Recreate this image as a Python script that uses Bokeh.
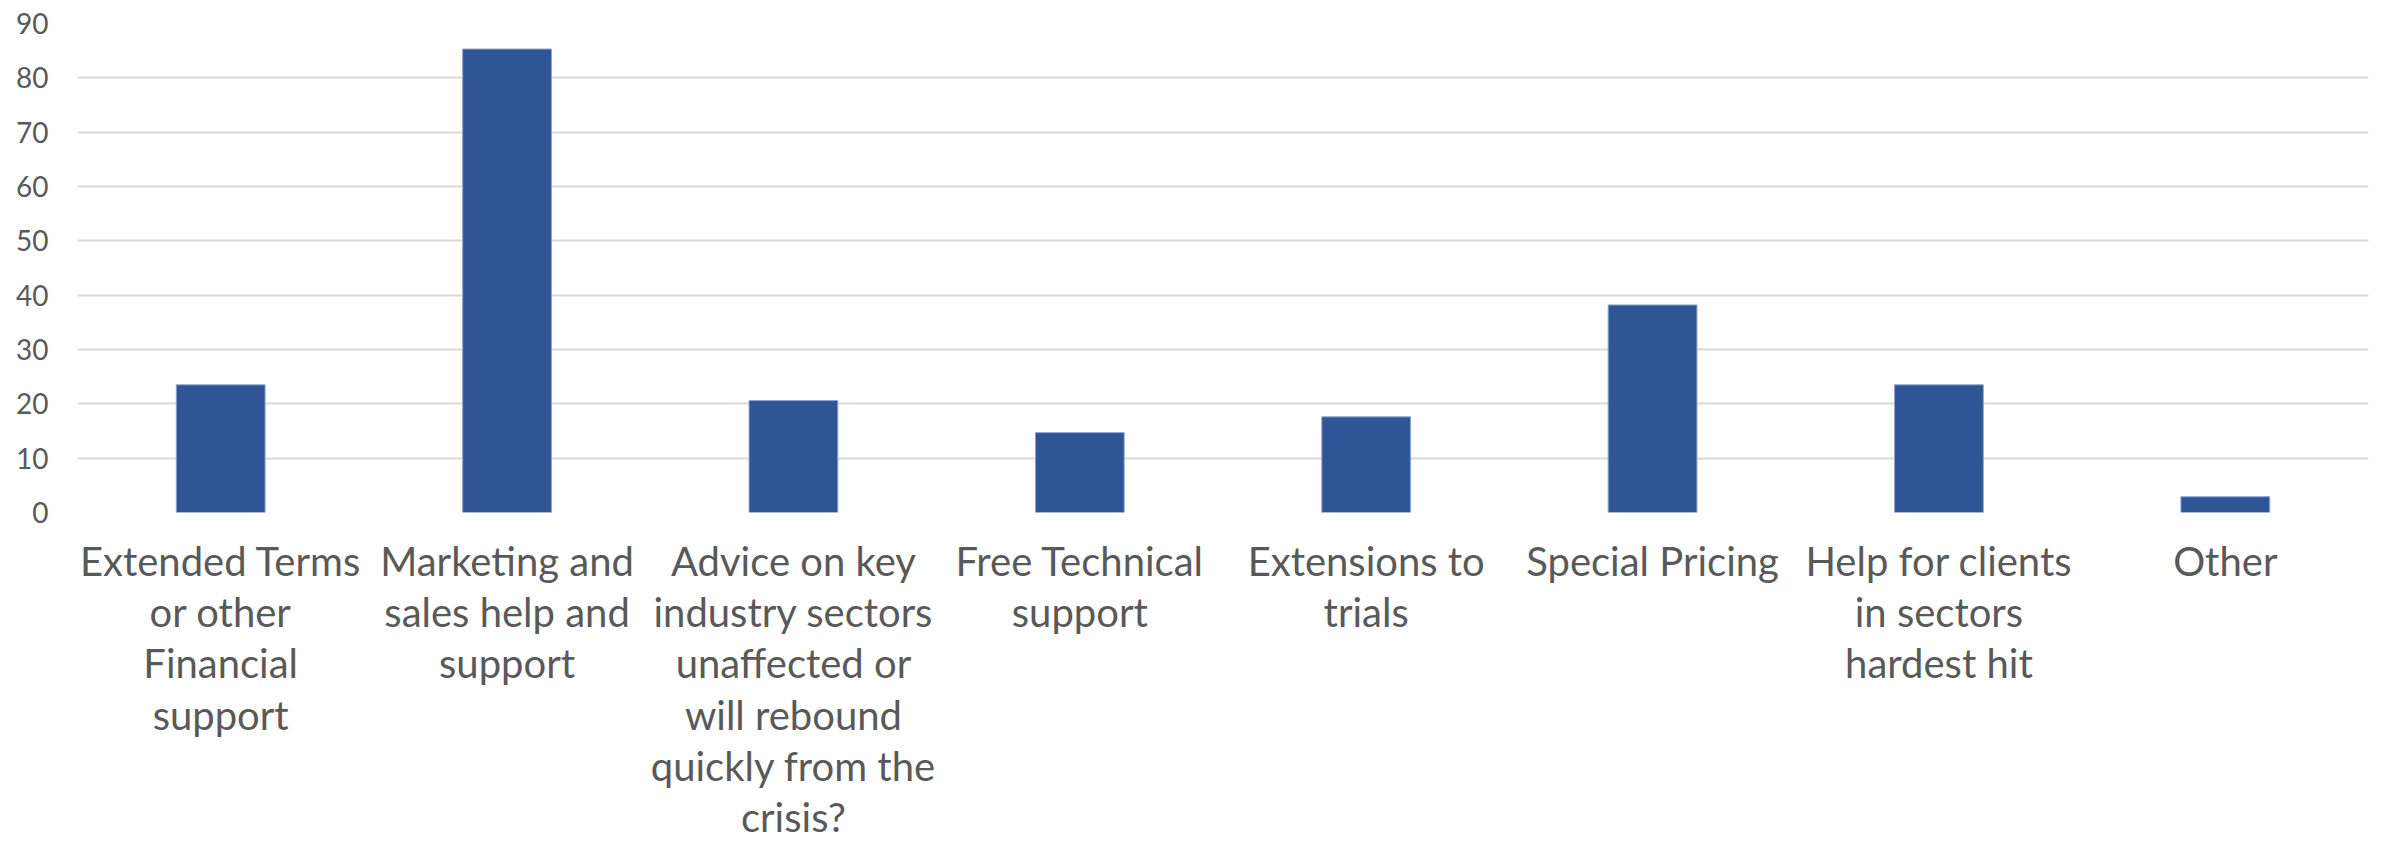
from bokeh.plotting import figure
from bokeh.models import ColumnDataSource, FixedTicker, Range1d
from bokeh.embed import file_html
from bokeh.resources import INLINE

categories = [
    "Extended Terms\nor other\nFinancial\nsupport",
    "Marketing and\nsales help and\nsupport",
    "Advice on key\nindustry sectors\nunaffected or\nwill rebound\nquickly from the\ncrisis?",
    "Free Technical\nsupport",
    "Extensions to\ntrials",
    "Special Pricing",
    "Help for clients\nin sectors\nhardest hit",
    "Other",
]
values = [23.5, 85.3, 20.6, 14.7, 17.6, 38.2, 23.5, 2.9]
y_ticks = [0, 10, 20, 30, 40, 50, 60, 70, 80, 90]

FONT = "Lato"
TEXT_COLOR = "#595959"

src = ColumnDataSource(data=dict(cat=categories, val=values))

p = figure(
    x_range=categories,
    y_range=Range1d(0, 90),
    width=2384,
    height=844,
    output_backend="svg",
    toolbar_location=None,
    min_border_left=77,
    min_border_right=16,
    min_border_top=23,
    min_border_bottom=332,
)
p.outline_line_color = None
p.background_fill_color = "white"
p.border_fill_color = "white"

p.vbar(x="cat", top="val", width=0.31, source=src,
       fill_color="#2F5597", line_color="#8EA4CC", line_width=1)

p.xgrid.grid_line_color = None
p.ygrid.grid_line_color = "#D9D9D9"
p.ygrid.grid_line_width = 2
p.ygrid.level = "underlay"

p.yaxis.ticker = FixedTicker(ticks=y_ticks)
p.yaxis.axis_line_color = None
p.yaxis.major_tick_line_color = None
p.yaxis.minor_tick_line_color = None
p.yaxis.major_tick_out = 0
p.yaxis.major_label_standoff = 29
p.yaxis.major_label_text_font = FONT
p.yaxis.major_label_text_font_size = "28px"
p.yaxis.major_label_text_color = TEXT_COLOR

p.xaxis.axis_line_color = None
p.xaxis.major_tick_line_color = None
p.xaxis.major_tick_out = 0
p.xaxis.major_label_standoff = 24
p.xaxis.major_label_text_font = FONT
p.xaxis.major_label_text_font_size = "40px"
p.xaxis.major_label_text_color = TEXT_COLOR
p.xaxis.major_label_text_line_height = 1.07
p.xaxis.major_label_orientation = "horizontal"

open("out.html", "w").write(file_html(p, INLINE))
